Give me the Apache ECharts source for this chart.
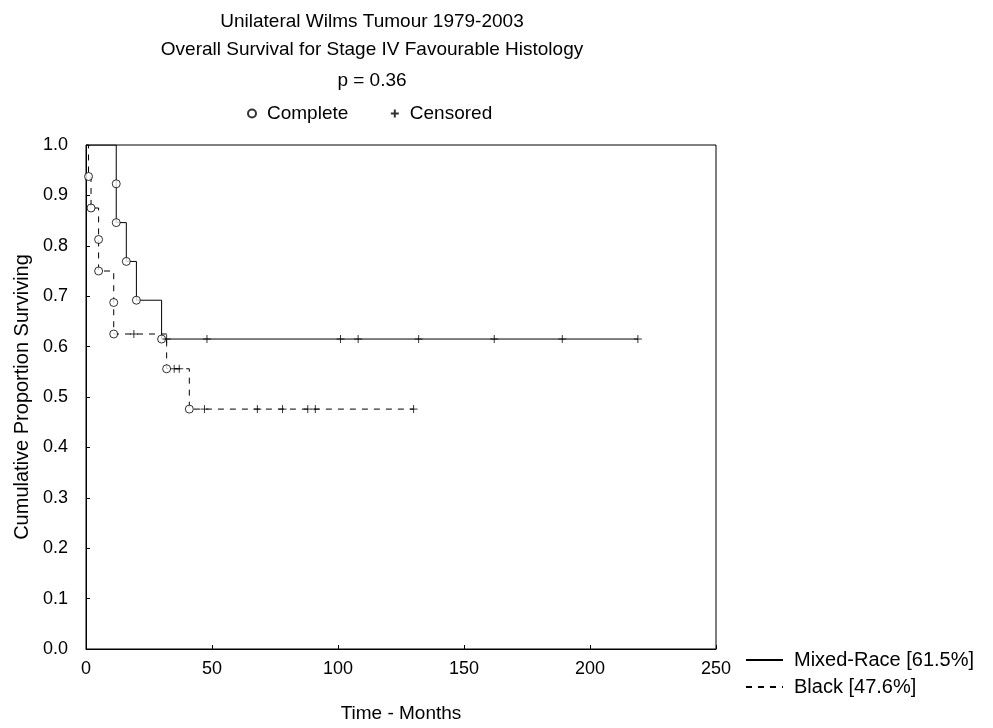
<!DOCTYPE html>
<html><head><meta charset="utf-8">
<script src="https://cdn.jsdelivr.net/npm/echarts@6/dist/echarts.min.js"></script>
<style>html,body{margin:0;padding:0;background:#fff}#c{width:993px;height:728px}</style>
</head><body><div id="c"></div>
<script>
// ---- data ----
const titleLines = ['Unilateral Wilms Tumour 1979-2003', 'Overall Survival for Stage IV Favourable Histology', 'p = 0.36'];
const groupNames = ['Mixed-Race [61.5%]', 'Black [47.6%]'];
const markNames = ['Complete', 'Censored'];
const xTicks = [0, 50, 100, 150, 200, 250];
const yTicks = [0, 0.1, 0.2, 0.3, 0.4, 0.5, 0.6, 0.7, 0.8, 0.9, 1.0];

// Mixed-Race: survival curve (time, proportion after event)
const mixedTimes = [0, 12, 12, 16, 20, 30, 219];
const mixedSurv  = [1, 0.923, 0.846, 0.769, 0.692, 0.615, 0.615];
const mixedEventIdx = [1, 2, 3, 4, 5];           // complete (death) points
const mixedCensTimes = [32, 48, 101, 108, 132, 162, 189, 219];

// Black
const blackTimes = [0, 1, 2, 5, 5, 11, 11, 32, 41, 130];
const blackSurv  = [1, 0.9375, 0.875, 0.8125, 0.75, 0.6875, 0.625, 0.556, 0.476, 0.476];
const blackEventIdx = [1, 2, 3, 4, 5, 6, 7, 8];
const blackCensTimes = [19, 35, 37, 47, 68, 78, 88, 91, 130];

// ---- build ----
function survAt(times, surv, t) {
  let s = surv[0];
  for (let i = 0; i < times.length; i++) if (times[i] <= t) s = surv[i];
  return s;
}
const pairs = (ts, ss) => ts.map((t, i) => [t, ss[i]]);
const completePts = mixedEventIdx.map(i => [mixedTimes[i], mixedSurv[i]])
  .concat(blackEventIdx.map(i => [blackTimes[i], blackSurv[i]]));
const censoredPts = mixedCensTimes.map(t => [t, survAt(mixedTimes, mixedSurv, t)])
  .concat(blackCensTimes.map(t => [t, survAt(blackTimes, blackSurv, t)]));

const FONT = 'Liberation Sans, Arial, sans-serif';
const tstyle = { fontFamily: FONT, fontSize: 19, fontWeight: 'normal', color: '#000', lineHeight: 21 };
const chart = echarts.init(document.getElementById('c'));
chart.setOption({
  animation: false,
  backgroundColor: '#fff',
  title: [
    { text: titleLines[0], left: 372, top: 11, textAlign: 'center', padding: 0, textStyle: tstyle },
    { text: titleLines[1], left: 372, top: 39, textAlign: 'center', padding: 0, textStyle: tstyle },
    { text: titleLines[2], left: 372, top: 70, textAlign: 'center', padding: 0, textStyle: tstyle }
  ],
  legend: [
    {
      data: markNames, left: 247, top: 104, itemWidth: 8, itemHeight: 8, itemGap: 40,
      textStyle: { fontFamily: FONT, fontSize: 19, color: '#000', padding: [0, 0, 0, 6] },
      padding: 0
    },
    {
      data: groupNames, orient: 'vertical', left: 745, top: 650, itemWidth: 37, itemHeight: 14, itemGap: 7,
      itemStyle: { opacity: 0 },
      textStyle: { fontFamily: FONT, fontSize: 20, color: '#000', padding: [0, 0, 0, 6] },
      padding: 0
    }
  ],
  grid: { left: 86, right: 277, top: 145, bottom: 73, show: true, borderColor: '#000', borderWidth: 1 },
  xAxis: {
    type: 'value', min: xTicks[0], max: xTicks[xTicks.length - 1], interval: 50,
    name: 'Time - Months', nameLocation: 'middle', nameGap: 55,
    nameTextStyle: { fontFamily: FONT, fontSize: 19, color: '#000' },
    axisLine: { lineStyle: { color: '#000' } },
    axisTick: { inside: true, length: 4, lineStyle: { color: '#000' } },
    axisLabel: { fontFamily: FONT, fontSize: 18, color: '#000', margin: 11 },
    splitLine: { show: false }
  },
  yAxis: {
    type: 'value', min: yTicks[0], max: yTicks[yTicks.length - 1], interval: 0.1,
    name: 'Cumulative Proportion Surviving', nameLocation: 'middle', nameGap: 50,
    nameTextStyle: { fontFamily: FONT, fontSize: 20, color: '#000' },
    axisLine: { lineStyle: { color: '#000' } },
    axisTick: { inside: true, length: 4, lineStyle: { color: '#000' } },
    axisLabel: { fontFamily: FONT, fontSize: 18, color: '#000', margin: 18, formatter: v => v.toFixed(1) },
    splitLine: { show: false }
  },
  series: [
    {
      name: groupNames[0], type: 'line', step: 'end', symbol: 'none', data: pairs(mixedTimes, mixedSurv),
      lineStyle: { color: '#000', width: 1, type: 'solid' }, itemStyle: { color: '#000' }, z: 2
    },
    {
      name: groupNames[1], type: 'line', step: 'end', symbol: 'none', data: pairs(blackTimes, blackSurv),
      lineStyle: { color: '#000', width: 1, type: [6, 6] }, itemStyle: { color: '#000' }, z: 2
    },
    {
      name: markNames[0], type: 'scatter', symbol: 'circle', symbolSize: 8, data: completePts,
      itemStyle: { color: '#fff', borderColor: '#000', borderWidth: 1 }, z: 3
    },
    {
      name: markNames[1], type: 'scatter', symbol: 'path://M5,0V10M0,5H10', symbolSize: 8, data: censoredPts,
      itemStyle: { color: 'none', borderColor: '#000', borderWidth: 1 }, z: 3
    }
  ]
});
</script>
</body></html>
